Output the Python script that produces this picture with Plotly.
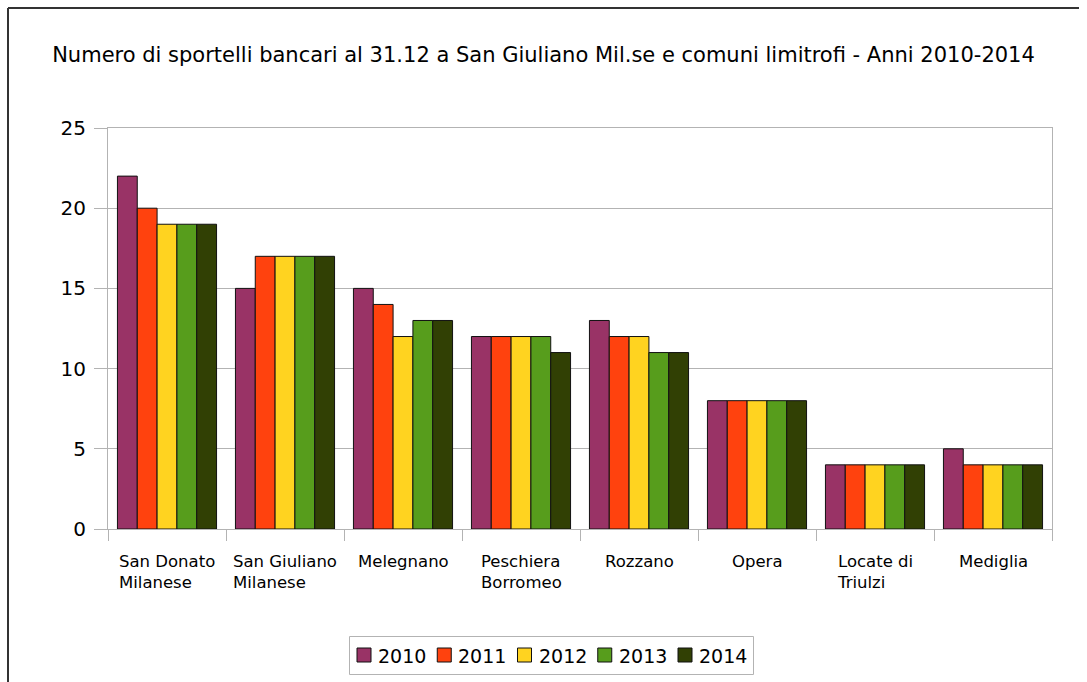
import plotly.graph_objects as go

# Bank branch counts at 31 Dec, San Giuliano Milanese and neighbouring towns
comuni = ["San Donato<br>Milanese", "San Giuliano<br>Milanese", "Melegnano",
          "Peschiera<br>Borromeo", "Rozzano", "Opera", "Locate di<br>Triulzi", "Mediglia"]
anni = ["2010", "2011", "2012", "2013", "2014"]
sportelli_2010 = [22, 15, 15, 12, 13, 8, 4, 5]
sportelli_2011 = [20, 17, 14, 12, 12, 8, 4, 4]
sportelli_2012 = [19, 17, 12, 12, 12, 8, 4, 4]
sportelli_2013 = [19, 17, 13, 12, 11, 8, 4, 4]
sportelli_2014 = [19, 17, 13, 11, 11, 8, 4, 4]
colori = ["#993366", "#ff420e", "#ffd320", "#579d1c", "#314004"]
y_ticks = [0, 5, 10, 15, 20, 25]

serie = [sportelli_2010, sportelli_2011, sportelli_2012, sportelli_2013, sportelli_2014]

W, H = 1087, 682
L, R, T, B = 108, 1052, 128, 529
FONT = "DejaVu Sans"
GRID = "#b3b3b3"
OUTLINE = "#111111"

fig = go.Figure()
for anno, valori, col in zip(anni, serie, colori):
    fig.add_trace(go.Bar(
        x=comuni, y=valori, name=anno, showlegend=False,
        marker=dict(color=col, line=dict(color=OUTLINE, width=1)),
    ))


def px_x(px):
    return (px - L) / (R - L)


def px_y(py):
    return (B - py) / (B - T)


# category labels, lines left-aligned inside each label
for c in comuni:
    fig.add_annotation(
        x=c, xref="x", y=px_y(550), yref="paper", text=c, showarrow=False,
        xanchor="center", yanchor="top", align="left",
        font=dict(family=FONT, size=16.5, color="#000000"),
    )

# outer frame (top and left edges)
frame = dict(color="#333333", width=2)
fig.add_shape(type="line", xref="paper", yref="paper",
              x0=px_x(8), x1=px_x(1079), y0=px_y(8), y1=px_y(8), line=frame)
fig.add_shape(type="line", xref="paper", yref="paper",
              x0=px_x(8), x1=px_x(8), y0=px_y(8), y1=px_y(690), line=frame)

# legend: bordered box with a swatch and label per year
fig.add_shape(type="rect", xref="paper", yref="paper",
              x0=px_x(349.5), x1=px_x(753.5), y0=px_y(636.5), y1=px_y(674.5),
              line=dict(color=GRID, width=1), fillcolor="white")
pitch = 80.25
for i, (anno, col) in enumerate(zip(anni, colori)):
    sx = 357 + i * pitch
    fig.add_shape(type="rect", xref="paper", yref="paper",
                  x0=px_x(sx), x1=px_x(sx + 14), y0=px_y(648), y1=px_y(662),
                  line=dict(color=OUTLINE, width=1), fillcolor=col)
    fig.add_annotation(
        x=px_x(sx + 19), xref="paper", y=px_y(655.5), yref="paper", text=anno,
        showarrow=False, xanchor="left", yanchor="middle",
        font=dict(family=FONT, size=19, color="#000000"),
    )

fig.update_layout(
    width=W, height=H, autosize=False,
    margin=dict(l=L, r=W - R, t=T, b=H - B, autoexpand=False),
    paper_bgcolor="white", plot_bgcolor="white",
    barmode="group", bargap=0.16, bargroupgap=0,
    showlegend=False,
    title=dict(text="Numero di sportelli bancari al 31.12 a San Giuliano Mil.se e comuni limitrofi - Anni 2010-2014",
               x=0.5, xanchor="center", y=1 - 55 / H, yanchor="middle",
               font=dict(family=FONT, size=21, color="#000000")),
    xaxis=dict(showticklabels=False, ticks="outside", ticklen=11, tickcolor=GRID,
               tickson="boundaries", showline=True, linecolor=GRID, mirror=True,
               showgrid=False, fixedrange=True),
    yaxis=dict(range=[0, 25], tickvals=y_ticks, ticks="outside", ticklen=13,
               tickcolor=GRID, showline=True, linecolor=GRID, mirror=True,
               gridcolor=GRID, gridwidth=1, zeroline=False, ticklabelstandoff=4,
               tickfont=dict(family=FONT, size=20, color="#000000")),
)

fig.write_html("out.html")
